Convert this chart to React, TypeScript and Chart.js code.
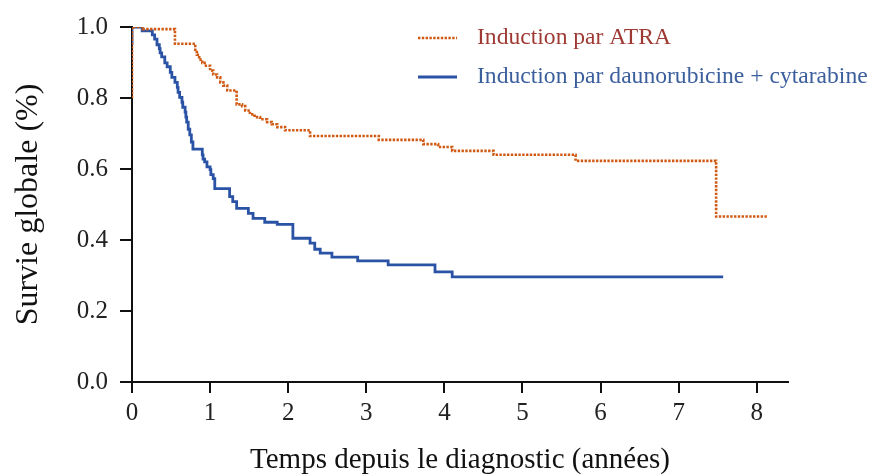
import React, { useEffect, useRef } from 'react';
import { Chart, registerables } from 'chart.js';

Chart.register(...registerables);

// ---- Data ----
const seriesLabels = ['Induction par ATRA', 'Induction par daunorubicine + cytarabine'];

const atraTimes = [0, 0, 0.14, 0.55, 0.81, 0.83, 0.86, 0.90, 0.93, 1.0, 1.04, 1.09, 1.13, 1.17, 1.22, 1.34, 1.41, 1.45, 1.51, 1.57, 1.64, 1.73, 1.79, 1.86, 1.96, 2.28, 3.16, 3.73, 3.92, 4.1, 4.63, 5.68, 7.48, 8.13];
const atraSurvival = [0.80, 1.0, 0.994, 0.953, 0.936, 0.922, 0.908, 0.899, 0.891, 0.877, 0.866, 0.858, 0.844, 0.835, 0.821, 0.782, 0.777, 0.765, 0.754, 0.746, 0.74, 0.732, 0.726, 0.718, 0.709, 0.693, 0.682, 0.67, 0.662, 0.651, 0.64, 0.623, 0.466, 0.466];

const dcTimes = [0, 0, 0.13, 0.26, 0.29, 0.32, 0.35, 0.36, 0.38, 0.42, 0.45, 0.49, 0.51, 0.55, 0.58, 0.59, 0.61, 0.64, 0.65, 0.68, 0.69, 0.70, 0.72, 0.74, 0.76, 0.78, 0.90, 0.91, 0.93, 0.96, 1.0, 1.01, 1.04, 1.06, 1.25, 1.29, 1.34, 1.49, 1.55, 1.70, 1.86, 2.06, 2.28, 2.34, 2.41, 2.56, 2.89, 3.28, 3.88, 4.10, 7.57];
const dcSurvival = [0.95, 1.0, 0.989, 0.978, 0.966, 0.95, 0.939, 0.927, 0.916, 0.899, 0.888, 0.872, 0.858, 0.844, 0.83, 0.816, 0.802, 0.788, 0.774, 0.76, 0.746, 0.732, 0.712, 0.696, 0.676, 0.656, 0.64, 0.628, 0.62, 0.606, 0.598, 0.584, 0.573, 0.545, 0.522, 0.508, 0.489, 0.475, 0.461, 0.45, 0.444, 0.405, 0.391, 0.374, 0.363, 0.352, 0.341, 0.33, 0.31, 0.296, 0.296];

const xTickValues = [0, 1, 2, 3, 4, 5, 6, 7, 8];
const yTickValues = [0, 0.2, 0.4, 0.6, 0.8, 1.0];
const xTitle = 'Temps depuis le diagnostic (années)';
const yTitle = 'Survie globale (%)';

// ---- Styles ----
const FONT = "'Liberation Serif', 'Times New Roman', Times, serif";
const ORANGE = '#D05A14';
const BLUE = '#2A53A6';
const ORANGE_TEXT = '#9E3A33';
const BLUE_TEXT = '#3B5E9C';
const AXIS = '#111111';
const ORANGE_DASH = [2.4, 1.4];

const legendPlugin = {
  id: 'customLegend',
  afterDraw(chart: any) {
    const ctx = chart.ctx;
    const items = [
      { label: seriesLabels[0], color: ORANGE, text: ORANGE_TEXT, dash: ORANGE_DASH, width: 2.6, y: 38 },
      { label: seriesLabels[1], color: BLUE, text: BLUE_TEXT, dash: [], width: 2.8, y: 77 },
    ];
    ctx.save();
    for (const it of items) {
      ctx.beginPath();
      ctx.setLineDash(it.dash);
      ctx.lineWidth = it.width;
      ctx.strokeStyle = it.color;
      ctx.moveTo(418, it.y);
      ctx.lineTo(457, it.y);
      ctx.stroke();
      ctx.setLineDash([]);
      ctx.fillStyle = it.text;
      ctx.font = `23.6px ${FONT}`;
      ctx.textBaseline = 'middle';
      ctx.textAlign = 'left';
      ctx.fillText(it.label, 477, it.y);
    }
    ctx.restore();
  },
};

export default function App() {
  const canvasRef = useRef<HTMLCanvasElement | null>(null);

  useEffect(() => {
    document.body.style.margin = '0';
    const canvas = canvasRef.current;
    if (!canvas) return;

    const atraData = atraTimes.map((t, i) => ({ x: t, y: atraSurvival[i] }));
    const dcData = dcTimes.map((t, i) => ({ x: t, y: dcSurvival[i] }));

    const chart = new Chart(canvas, {
      type: 'line',
      data: {
        datasets: [
          {
            label: seriesLabels[0],
            data: atraData,
            borderColor: ORANGE,
            borderWidth: 2.6,
            borderDash: ORANGE_DASH,
            stepped: true,
            pointRadius: 0,
            fill: false,
          },
          {
            label: seriesLabels[1],
            data: dcData,
            borderColor: BLUE,
            borderWidth: 2.8,
            stepped: true,
            pointRadius: 0,
            fill: false,
          },
        ],
      },
      options: {
        animation: false,
        responsive: false,
        devicePixelRatio: 1,
        layout: { padding: { left: 0, top: 24, right: 86, bottom: 0 } },
        plugins: {
          legend: { display: false },
          tooltip: { enabled: false },
        },
        scales: {
          x: {
            type: 'linear',
            min: 0,
            max: 8.4,
            afterBuildTicks: (s: any) => {
              s.ticks = xTickValues.map((v) => ({ value: v }));
            },
            afterFit: (s: any) => {
              s.height = 93;
            },
            ticks: {
              font: { family: FONT, size: 25 },
              color: '#222',
              padding: 5,
              maxRotation: 0,
              autoSkip: false,
              callback: (v: any) => String(v),
            },
            grid: { drawOnChartArea: false, drawTicks: true, tickLength: 11, color: AXIS, lineWidth: 2 },
            border: { color: AXIS, width: 2 },
            title: {
              display: true,
              text: xTitle,
              font: { family: FONT, size: 29, lineHeight: 1 },
              color: '#111',
              padding: { top: 0, bottom: 0 },
            },
          },
          y: {
            type: 'linear',
            min: 0,
            max: 1.0,
            afterBuildTicks: (s: any) => {
              s.ticks = yTickValues.map((v) => ({ value: v }));
            },
            afterFit: (s: any) => {
              s.width = 132;
            },
            ticks: {
              font: { family: FONT, size: 25 },
              color: '#222',
              padding: 12,
              callback: (v: any) => Number(v).toFixed(1),
            },
            grid: { drawOnChartArea: false, drawTicks: true, tickLength: 12, color: AXIS, lineWidth: 2 },
            border: { color: AXIS, width: 2 },
            title: {
              display: true,
              text: yTitle,
              font: { family: FONT, size: 32 },
              color: '#111',
              padding: { top: 9, bottom: 0 },
            },
          },
        },
      } as any,
      plugins: [legendPlugin],
    });

    return () => chart.destroy();
  }, []);

  return (
    <div style={{ width: 874, height: 475, background: '#fff' }}>
      <canvas ref={canvasRef} width={874} height={475} style={{ display: 'block' }} />
    </div>
  );
}
